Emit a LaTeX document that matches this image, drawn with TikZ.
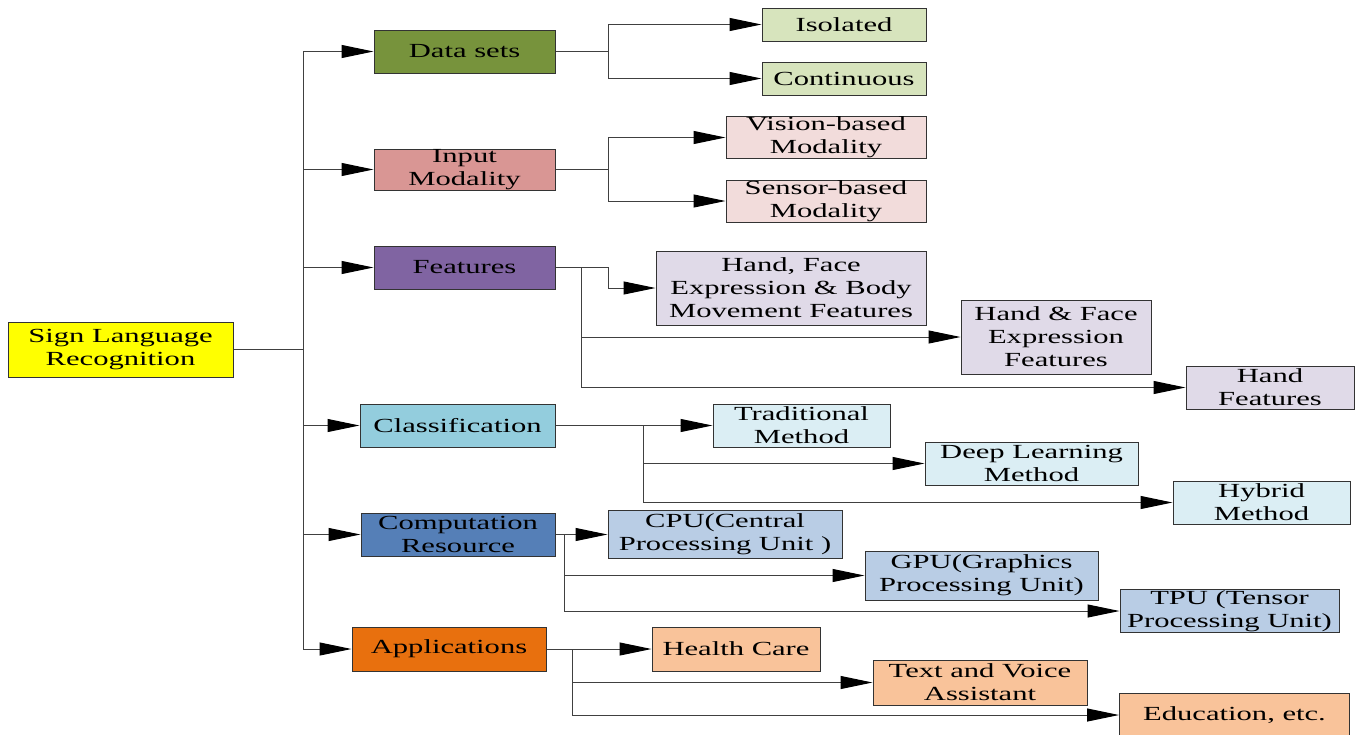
\documentclass[tikz,border=0pt]{standalone}
\usepackage{fontspec}
\setmainfont{Liberation Serif}[FakeStretch=1.53]
\usetikzlibrary{arrows.meta}
\definecolor{rootc}{HTML}{FFFF00}
\definecolor{dsc}{HTML}{77933C}
\definecolor{dsl}{HTML}{D7E4BD}
\definecolor{imc}{HTML}{D99694}
\definecolor{iml}{HTML}{F2DCDB}
\definecolor{ftc}{HTML}{8064A2}
\definecolor{ftl}{HTML}{E0DAE8}
\definecolor{clc}{HTML}{93CDDD}
\definecolor{cll}{HTML}{DBEEF4}
\definecolor{crc}{HTML}{557FB7}
\definecolor{crl}{HTML}{B9CDE5}
\definecolor{apc}{HTML}{E8700E}
\definecolor{apl}{HTML}{F9C39A}
\begin{document}
\begin{tikzpicture}[x=1pt,y=-1pt,
  box/.style={draw=black!80, line width=1pt, inner sep=0pt, align=center,
              font=\fontsize{20}{23}\selectfont},
  ln/.style={draw=black!75, line width=1pt},
  arr/.style={ln, -{Triangle[length=32pt,width=13pt,black]}}]
\path[use as bounding box] (0,0) rectangle (1356,734);

% root
\node[box, fill=rootc, minimum width=225pt, minimum height=55pt] (root) at (120.5,349.5) {Sign Language\\Recognition};

% level 1
\node[box, fill=dsc, minimum width=181pt, minimum height=43pt] (ds) at (464.5,51.5) {Data sets};
\node[box, fill=imc, minimum width=181pt, minimum height=41pt] (im) at (464.5,169.5) {Input\\Modality};
\node[box, fill=ftc, minimum width=181pt, minimum height=43pt] (ft) at (464.5,267.5) {Features};
\node[box, fill=clc, minimum width=195pt, minimum height=43pt] (cl) at (457.5,425.5) {Classification};
\node[box, fill=crc, minimum width=194pt, minimum height=43pt] (cr) at (458,534.5) {Computation\\Resource};
\node[box, fill=apc, minimum width=194pt, minimum height=44pt] (ap) at (449,649) {Applications};

% level 2
\node[box, fill=dsl, minimum width=164pt, minimum height=33pt] (iso) at (844,24.5) {Isolated};
\node[box, fill=dsl, minimum width=164pt, minimum height=33pt] (cont) at (844,78.5) {Continuous};
\node[box, fill=iml, minimum width=200pt, minimum height=41pt] (vis) at (826,137.5) {Vision-based\\Modality};
\node[box, fill=iml, minimum width=200pt, minimum height=42pt] (sen) at (826,201) {Sensor-based\\Modality};
\node[box, fill=ftl, minimum width=270pt, minimum height=74pt] (hfb) at (791,288) {Hand, Face\\Expression \& Body\\Movement Features};
\node[box, fill=ftl, minimum width=190pt, minimum height=74pt] (hf) at (1056,337) {Hand \& Face\\Expression\\Features};
\node[box, fill=ftl, minimum width=168pt, minimum height=43pt] (hand) at (1270,387.5) {Hand\\Features};
\node[box, fill=cll, minimum width=177pt, minimum height=43pt] (trad) at (801.5,425.5) {Traditional\\Method};
\node[box, fill=cll, minimum width=213pt, minimum height=43pt] (deep) at (1031.5,463.5) {Deep Learning\\Method};
\node[box, fill=cll, minimum width=177pt, minimum height=43pt] (hyb) at (1261.5,502.5) {Hybrid\\Method};
\node[box, fill=crl, minimum width=234pt, minimum height=48pt] (cpu) at (725,534.5) {CPU(Central\\Processing Unit )};
\node[box, fill=crl, minimum width=233pt, minimum height=49pt] (gpu) at (981.5,575.5) {GPU(Graphics\\Processing Unit)};
\node[box, fill=crl, minimum width=219pt, minimum height=43pt] (tpu) at (1229.5,611) {TPU (Tensor\\Processing Unit)};
\node[box, fill=apl, minimum width=168pt, minimum height=44pt] (hc) at (736,649) {Health Care};
\node[box, fill=apl, minimum width=214pt, minimum height=45pt] (tva) at (980,682.5) {Text and Voice\\Assistant};
\node[box, fill=apl, minimum width=230pt, minimum height=44pt] (edu) at (1234.5,715) {Education, etc.};

% trunk
\coordinate (T) at (303,0);
\draw[ln] (root.east) -- (root.east -| T);
\draw[ln] (ds.west -| T) -- (ap.west -| T);
\foreach \n in {ds,im,ft,cl,cr,ap} \draw[arr] (\n.west -| T) -- (\n.west);

% data sets
\coordinate (B1) at (608,0);
\draw[ln] (ds.east) -- (ds.east -| B1);
\draw[ln] (iso.west -| B1) -- (cont.west -| B1);
\draw[arr] (iso.west -| B1) -- (iso.west);
\draw[arr] (cont.west -| B1) -- (cont.west);

% input modality
\coordinate (B2) at (608,0);
\draw[ln] (im.east) -- (im.east -| B2);
\draw[ln] (vis.west -| B2) -- (sen.west -| B2);
\draw[arr] (vis.west -| B2) -- (vis.west);
\draw[arr] (sen.west -| B2) -- (sen.west);

% features
\coordinate (B3a) at (608,0);
\coordinate (B3b) at (581,0);
\draw[arr] (ft.east) -- (ft.east -| B3a) -- (hfb.west -| B3a) -- (hfb.west);
\draw[ln] (ft.east -| B3b) -- (hand.west -| B3b);
\draw[arr] (hf.west -| B3b) -- (hf.west);
\draw[arr] (hand.west -| B3b) -- (hand.west);

% classification
\coordinate (B4) at (643,0);
\draw[arr] (cl.east) -- (trad.west);
\draw[ln] (cl.east -| B4) -- (hyb.west -| B4);
\draw[arr] (deep.west -| B4) -- (deep.west);
\draw[arr] (hyb.west -| B4) -- (hyb.west);

% computation resource
\coordinate (B5) at (564,0);
\draw[arr] (cr.east) -- (cpu.west);
\draw[ln] (cr.east -| B5) -- (tpu.west -| B5);
\draw[arr] (gpu.west -| B5) -- (gpu.west);
\draw[arr] (tpu.west -| B5) -- (tpu.west);

% applications
\coordinate (B6) at (572,0);
\draw[arr] (ap.east) -- (hc.west);
\draw[ln] (ap.east -| B6) -- (edu.west -| B6);
\draw[arr] (tva.west -| B6) -- (tva.west);
\draw[arr] (edu.west -| B6) -- (edu.west);
\end{tikzpicture}
\end{document}
